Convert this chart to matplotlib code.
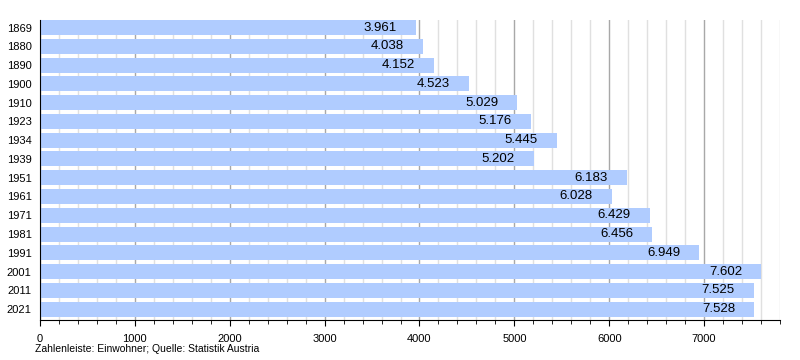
import matplotlib
matplotlib.use("Agg")
import matplotlib.pyplot as plt
from matplotlib.ticker import MultipleLocator

plt.rcParams['font.family'] = ['Liberation Sans', 'DejaVu Sans']

years = ["1869", "1880", "1890", "1900", "1910", "1923", "1934", "1939",
         "1951", "1961", "1971", "1981", "1991", "2001", "2011", "2021"]
population = [3961, 4038, 4152, 4523, 5029, 5176, 5445, 5202,
              6183, 6028, 6429, 6456, 6949, 7602, 7525, 7528]
x_ticks = [0, 1000, 2000, 3000, 4000, 5000, 6000, 7000]
footer = "Zahlenleiste: Einwohner; Quelle: Statistik Austria"

fig = plt.figure(figsize=(8, 3.6), dpi=100)
ax = fig.add_axes([40/800, 1 - 320/360, 740/800, 300/360])

pos = list(range(len(years)))
ax.barh(pos, population, height=0.8, color="#b0ccff", zorder=2)

for p, v in zip(pos, population):
    ax.annotate(f"{v:,}".replace(",", "."), xy=(v, p), xytext=(-19*0.72, 0),
                textcoords="offset points", ha="right", va="center",
                fontsize=9.5, color="black", zorder=3)

ax.set_xlim(0, 7800)
ax.set_ylim(15.58, -0.4)
ax.set_yticks(pos)
ax.set_yticklabels(years, fontsize=8)
ax.set_xticks(x_ticks)
ax.set_xticklabels([str(t) for t in x_ticks], fontsize=8)
ax.xaxis.set_minor_locator(MultipleLocator(200))

ax.grid(axis="x", which="major", color="#a8a8a8", linewidth=1, zorder=0)
ax.grid(axis="x", which="minor", color="#e0e0e0", linewidth=1, zorder=0)
ax.set_axisbelow(True)

for s in ["top", "right"]:
    ax.spines[s].set_visible(False)
ax.spines["left"].set_color("black")
ax.spines["bottom"].set_color("black")
ax.tick_params(axis="y", length=0, pad=6)
ax.tick_params(axis="x", which="major", length=4, direction="out", pad=6)
ax.tick_params(axis="x", which="minor", length=3, direction="out")

fig.text(35/800, 1 - 349/360, footer, fontsize=7.5, ha="left", va="center")

fig.savefig("out.png", dpi=100)
